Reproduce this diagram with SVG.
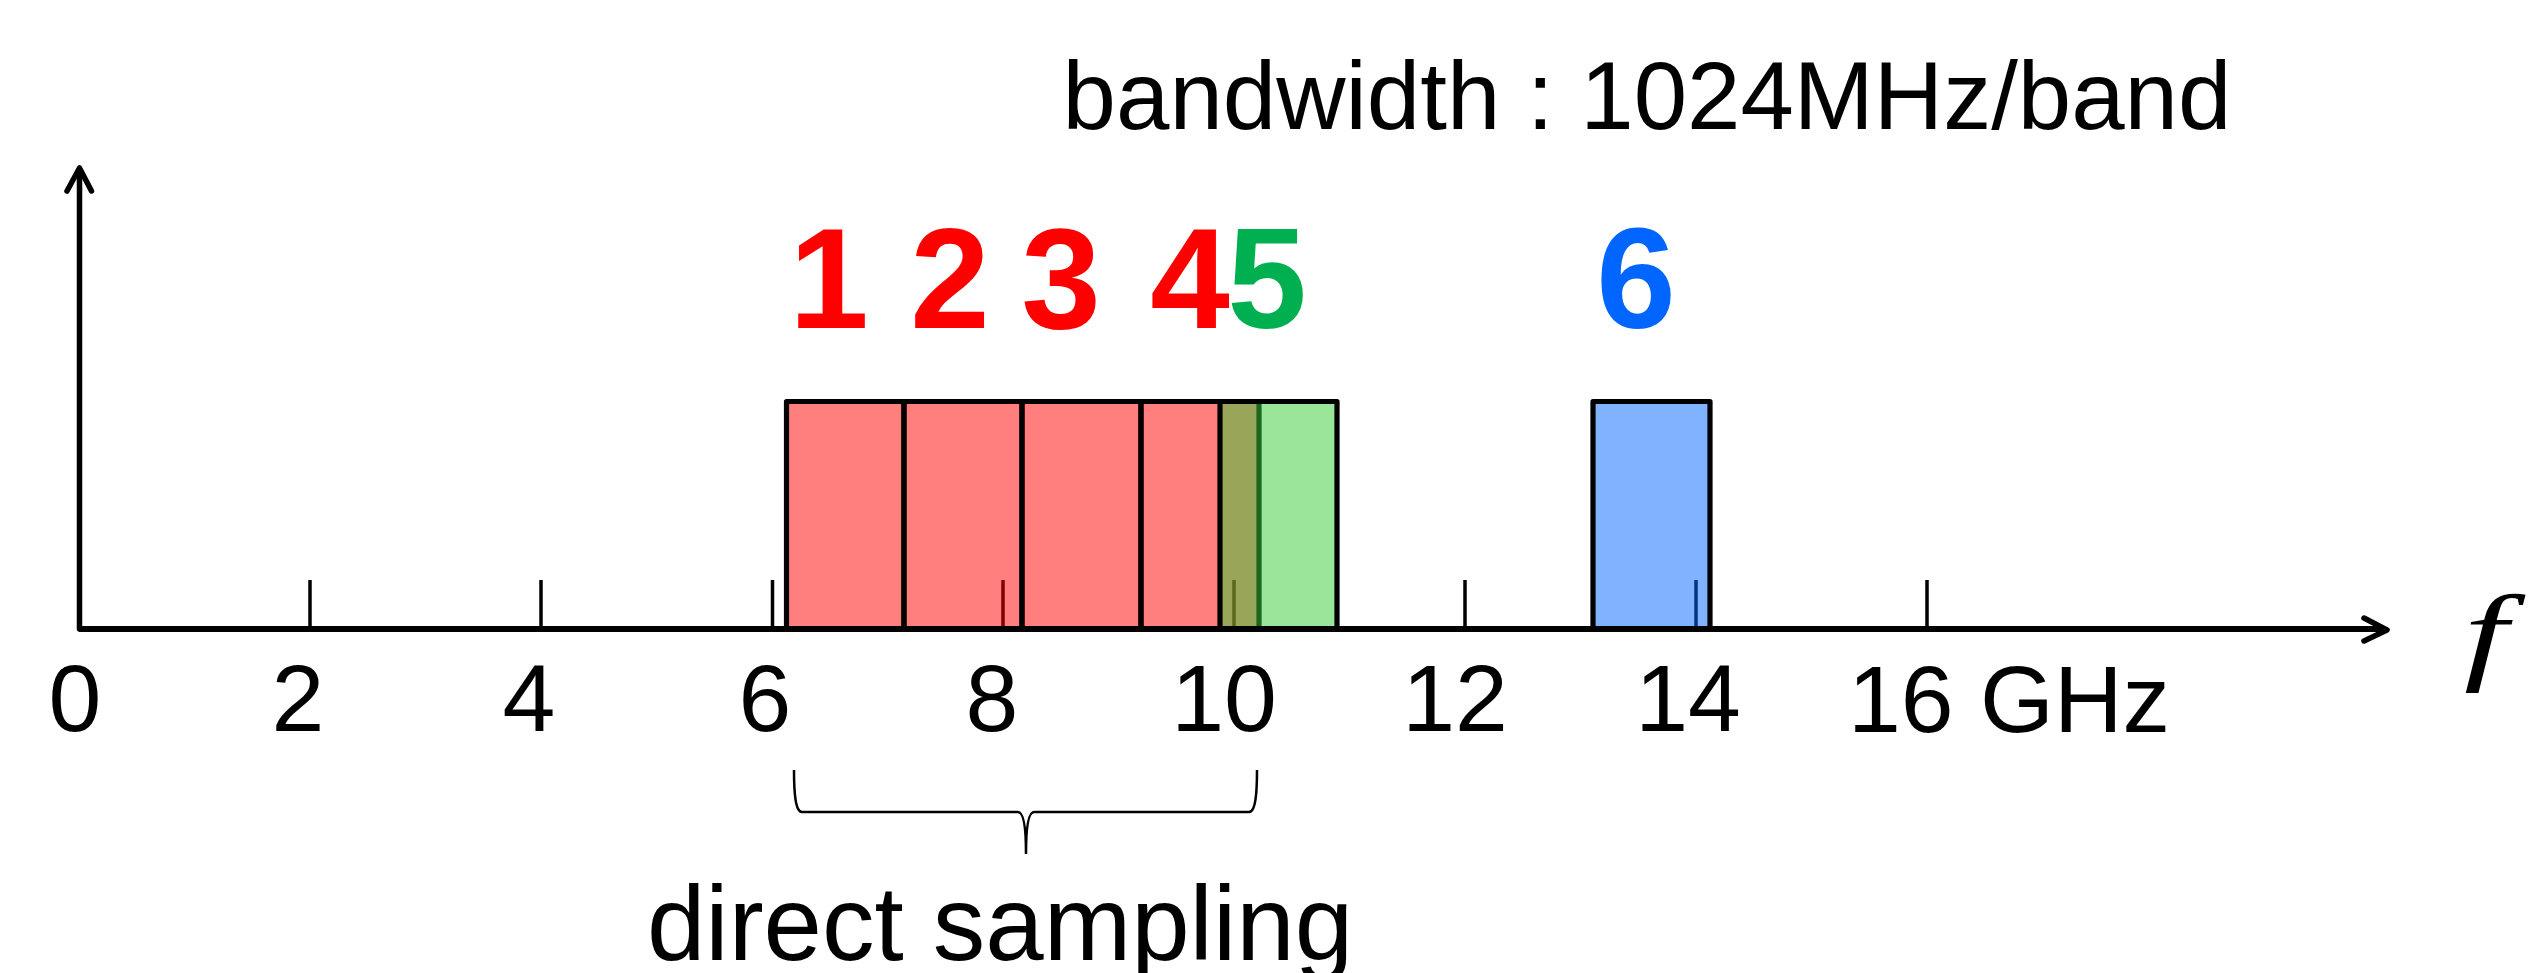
<svg xmlns="http://www.w3.org/2000/svg" width="2544" height="973" viewBox="0 0 2544 973">
<style>
.lbl{font-family:"Liberation Sans",Arial,sans-serif;font-size:95px;fill:#000}
.num{font-family:"Liberation Sans",Arial,sans-serif;font-size:143px;font-weight:bold;text-anchor:middle}
.tick{stroke:#000;stroke-width:3.5}
.band{stroke:#000;stroke-width:5.2;fill-opacity:0.5;stroke-linejoin:round}
</style>
<rect width="2544" height="973" fill="#fff"/>
<g id="title"><text class="lbl" x="1647" y="129" text-anchor="middle" style="font-size:96px">bandwidth : 1024MHz/band</text></g>
<g id="ticks">
<line class="tick" x1="310" y1="580" x2="310" y2="628"/>
<line class="tick" x1="541" y1="580" x2="541" y2="628"/>
<line class="tick" x1="772.5" y1="580" x2="772.5" y2="628"/>
<line class="tick" x1="1003" y1="580" x2="1003" y2="628"/>
<line class="tick" x1="1234" y1="580" x2="1234" y2="628"/>
<line class="tick" x1="1465" y1="580" x2="1465" y2="628"/>
<line class="tick" x1="1696" y1="580" x2="1696" y2="628"/>
<line class="tick" x1="1927" y1="580" x2="1927" y2="628"/>
</g>
<g id="band1"><rect class="band" x="786.5" y="401.5" width="117.5" height="227" fill="#FF0000"/><text class="num" x="829" y="328" fill="#FF0000">1</text></g>
<g id="band2"><rect class="band" x="904" y="401.5" width="118" height="227" fill="#FF0000"/><text class="num" x="950" y="328" fill="#FF0000">2</text></g>
<g id="band3"><rect class="band" x="1022" y="401.5" width="119" height="227" fill="#FF0000"/><text class="num" x="1061" y="328" fill="#FF0000">3</text></g>
<g id="band4"><rect class="band" x="1141" y="401.5" width="118" height="227" fill="#FF0000"/><text class="num" x="1190" y="328" fill="#FF0000">4</text></g>
<g id="band5"><rect class="band" x="1220" y="401.5" width="117" height="227" fill="#33CC33"/><text class="num" x="1267" y="328" fill="#00B050">5</text></g>
<g id="band6"><rect class="band" x="1593" y="401.5" width="117" height="227" fill="#0066FF"/><text class="num" x="1636" y="328" fill="#0066FF">6</text></g>
<g id="axes" fill="none" stroke="#000" stroke-linecap="round" stroke-linejoin="round">
<line x1="79.5" y1="629" x2="79.5" y2="170" stroke-width="5.5"/>
<polyline points="67,191 79.5,168 91.5,191" stroke-width="5.5"/>
<line x1="79" y1="629" x2="2385" y2="629" stroke-width="6" stroke-linecap="butt"/>
<polyline points="2364,618 2387,630 2364,641" stroke-width="5.5"/>
</g>
<g id="axis-labels">
<text class="lbl" x="75" y="731" text-anchor="middle">0</text>
<text class="lbl" x="298" y="731" text-anchor="middle">2</text>
<text class="lbl" x="529" y="731" text-anchor="middle">4</text>
<text class="lbl" x="765" y="731" text-anchor="middle">6</text>
<text class="lbl" x="992" y="731" text-anchor="middle">8</text>
<text class="lbl" x="1224" y="731" text-anchor="middle">10</text>
<text class="lbl" x="1455" y="731" text-anchor="middle">12</text>
<text class="lbl" x="1688" y="731" text-anchor="middle">14</text>
<text class="lbl" x="1848" y="732">16 GHz</text>
<text transform="translate(2464,670) scale(1.45,1)" font-family="'Liberation Serif','Times New Roman',serif" font-style="italic" font-size="108">f</text>
</g>
<g id="connectors">
<path d="M794,770 C794,790 795,812 802,812 L1018,812 C1024,812 1026,830 1026,854 C1026,830 1028,812 1034,812 L1249,812 C1256,812 1257,790 1257,770" fill="none" stroke="#000" stroke-width="2.5"/>
</g>
<g id="brace-label"><text class="lbl" x="1000" y="960" text-anchor="middle" style="font-size:105px">direct sampling</text></g>
</svg>
